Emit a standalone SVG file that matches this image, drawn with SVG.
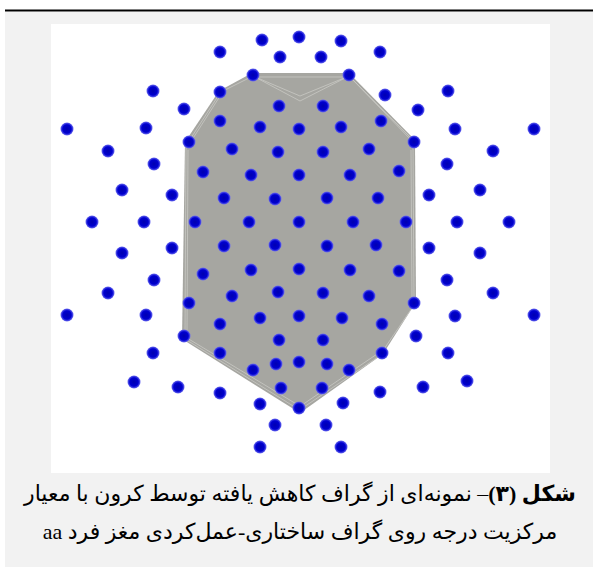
<svg xmlns="http://www.w3.org/2000/svg" width="593" height="567" viewBox="0 0 593 567">
<style>
.n{fill:url(#dot)}
.e{stroke:#c9c9c4;stroke-width:0.8;fill:none}
.cap{font-family:"Liberation Serif","DejaVu Sans",serif;font-size:22px;fill:#000}
</style>
<defs>
<radialGradient id="dot">
<stop offset="0" stop-color="#0000b0"/>
<stop offset="0.65" stop-color="#0000d0"/>
<stop offset="1" stop-color="#6a6af0"/>
</radialGradient>
</defs>
<rect x="0" y="0" width="593" height="567" fill="#ffffff"/>
<rect x="5" y="12" width="588" height="555" fill="#f2f2f2"/>
<line x1="5" y1="10.5" x2="593" y2="10.5" stroke="#000" stroke-width="2"/>
<rect x="51" y="24" width="499" height="449" fill="#ffffff"/>
<g id="connectors">
<polygon points="252,73 349,73 415,140 416,302 383,354 300,413 182,339 185,142 219,91" fill="#a6a6a1"/>
<path class="e" d="M253,76 L300,101 L349,76 M253,77 L349,77 M253,76 L300,96 L349,76 M220,93 L189,141 M222,93 L190,143 M253,76 L221,92 M349,76 L414,141 M351,78 L413,142 M186,145 L185,336 M188,150 L187,330 M413,146 L414,300 M411,150 L412,298 M185,339 L298,409 M187,338 L298,405 M414,305 L382,352 M381,355 L301,409 M380,352 L302,405"/>
</g>
<g id="nodes">
<g id="n1"><circle class="n" cx="262" cy="40" r="6.5"/></g>
<g id="n2"><circle class="n" cx="299" cy="37" r="6.5"/></g>
<g id="n3"><circle class="n" cx="341" cy="41" r="6.5"/></g>
<g id="n4"><circle class="n" cx="220" cy="52" r="6.5"/></g>
<g id="n5"><circle class="n" cx="380" cy="52" r="6.5"/></g>
<g id="n6"><circle class="n" cx="280" cy="57" r="6.5"/></g>
<g id="n7"><circle class="n" cx="321" cy="57" r="6.5"/></g>
<g id="n8"><circle class="n" cx="253" cy="75" r="6.5"/></g>
<g id="n9"><circle class="n" cx="349" cy="75" r="6.5"/></g>
<g id="n10"><circle class="n" cx="153" cy="91" r="6.5"/></g>
<g id="n11"><circle class="n" cx="220" cy="92" r="6.5"/></g>
<g id="n12"><circle class="n" cx="385" cy="95" r="6.5"/></g>
<g id="n13"><circle class="n" cx="448" cy="91" r="6.5"/></g>
<g id="n14"><circle class="n" cx="279" cy="106" r="6.5"/></g>
<g id="n15"><circle class="n" cx="323" cy="106" r="6.5"/></g>
<g id="n16"><circle class="n" cx="184" cy="109" r="6.5"/></g>
<g id="n17"><circle class="n" cx="418" cy="110" r="6.5"/></g>
<g id="n18"><circle class="n" cx="67" cy="129" r="6.5"/></g>
<g id="n19"><circle class="n" cx="146" cy="128" r="6.5"/></g>
<g id="n20"><circle class="n" cx="220" cy="121" r="6.5"/></g>
<g id="n21"><circle class="n" cx="260" cy="127" r="6.5"/></g>
<g id="n22"><circle class="n" cx="299" cy="129" r="6.5"/></g>
<g id="n23"><circle class="n" cx="341" cy="127" r="6.5"/></g>
<g id="n24"><circle class="n" cx="381" cy="121" r="6.5"/></g>
<g id="n25"><circle class="n" cx="455" cy="129" r="6.5"/></g>
<g id="n26"><circle class="n" cx="534" cy="129" r="6.5"/></g>
<g id="n27"><circle class="n" cx="108" cy="151" r="6.5"/></g>
<g id="n28"><circle class="n" cx="189" cy="142" r="6.5"/></g>
<g id="n29"><circle class="n" cx="232" cy="149" r="6.5"/></g>
<g id="n30"><circle class="n" cx="278" cy="152" r="6.5"/></g>
<g id="n31"><circle class="n" cx="323" cy="152" r="6.5"/></g>
<g id="n32"><circle class="n" cx="369" cy="149" r="6.5"/></g>
<g id="n33"><circle class="n" cx="414" cy="142" r="6.5"/></g>
<g id="n34"><circle class="n" cx="493" cy="151" r="6.5"/></g>
<g id="n35"><circle class="n" cx="154" cy="164" r="6.5"/></g>
<g id="n36"><circle class="n" cx="203" cy="172" r="6.5"/></g>
<g id="n37"><circle class="n" cx="251" cy="175" r="6.5"/></g>
<g id="n38"><circle class="n" cx="299" cy="175" r="6.5"/></g>
<g id="n39"><circle class="n" cx="350" cy="175" r="6.5"/></g>
<g id="n40"><circle class="n" cx="399" cy="171" r="6.5"/></g>
<g id="n41"><circle class="n" cx="447" cy="164" r="6.5"/></g>
<g id="n42"><circle class="n" cx="122" cy="190" r="6.5"/></g>
<g id="n43"><circle class="n" cx="172" cy="195" r="6.5"/></g>
<g id="n44"><circle class="n" cx="224" cy="198" r="6.5"/></g>
<g id="n45"><circle class="n" cx="275" cy="199" r="6.5"/></g>
<g id="n46"><circle class="n" cx="327" cy="198" r="6.5"/></g>
<g id="n47"><circle class="n" cx="378" cy="198" r="6.5"/></g>
<g id="n48"><circle class="n" cx="429" cy="195" r="6.5"/></g>
<g id="n49"><circle class="n" cx="480" cy="190" r="6.5"/></g>
<g id="n50"><circle class="n" cx="92" cy="222" r="6.5"/></g>
<g id="n51"><circle class="n" cx="144" cy="222" r="6.5"/></g>
<g id="n52"><circle class="n" cx="195" cy="222" r="6.5"/></g>
<g id="n53"><circle class="n" cx="249" cy="222" r="6.5"/></g>
<g id="n54"><circle class="n" cx="299" cy="222" r="6.5"/></g>
<g id="n55"><circle class="n" cx="353" cy="222" r="6.5"/></g>
<g id="n56"><circle class="n" cx="406" cy="222" r="6.5"/></g>
<g id="n57"><circle class="n" cx="457" cy="222" r="6.5"/></g>
<g id="n58"><circle class="n" cx="509" cy="222" r="6.5"/></g>
<g id="n59"><circle class="n" cx="122" cy="253" r="6.5"/></g>
<g id="n60"><circle class="n" cx="172" cy="248" r="6.5"/></g>
<g id="n61"><circle class="n" cx="224" cy="246" r="6.5"/></g>
<g id="n62"><circle class="n" cx="275" cy="245" r="6.5"/></g>
<g id="n63"><circle class="n" cx="327" cy="246" r="6.5"/></g>
<g id="n64"><circle class="n" cx="376" cy="245" r="6.5"/></g>
<g id="n65"><circle class="n" cx="429" cy="248" r="6.5"/></g>
<g id="n66"><circle class="n" cx="480" cy="253" r="6.5"/></g>
<g id="n67"><circle class="n" cx="154" cy="280" r="6.5"/></g>
<g id="n68"><circle class="n" cx="203" cy="274" r="6.5"/></g>
<g id="n69"><circle class="n" cx="251" cy="270" r="6.5"/></g>
<g id="n70"><circle class="n" cx="299" cy="269" r="6.5"/></g>
<g id="n71"><circle class="n" cx="350" cy="270" r="6.5"/></g>
<g id="n72"><circle class="n" cx="399" cy="271" r="6.5"/></g>
<g id="n73"><circle class="n" cx="447" cy="280" r="6.5"/></g>
<g id="n74"><circle class="n" cx="108" cy="293" r="6.5"/></g>
<g id="n75"><circle class="n" cx="189" cy="303" r="6.5"/></g>
<g id="n76"><circle class="n" cx="232" cy="296" r="6.5"/></g>
<g id="n77"><circle class="n" cx="278" cy="292" r="6.5"/></g>
<g id="n78"><circle class="n" cx="323" cy="293" r="6.5"/></g>
<g id="n79"><circle class="n" cx="369" cy="296" r="6.5"/></g>
<g id="n80"><circle class="n" cx="414" cy="303" r="6.5"/></g>
<g id="n81"><circle class="n" cx="493" cy="293" r="6.5"/></g>
<g id="n82"><circle class="n" cx="67" cy="315" r="6.5"/></g>
<g id="n83"><circle class="n" cx="146" cy="315" r="6.5"/></g>
<g id="n84"><circle class="n" cx="220" cy="324" r="6.5"/></g>
<g id="n85"><circle class="n" cx="260" cy="318" r="6.5"/></g>
<g id="n86"><circle class="n" cx="299" cy="316" r="6.5"/></g>
<g id="n87"><circle class="n" cx="342" cy="318" r="6.5"/></g>
<g id="n88"><circle class="n" cx="382" cy="324" r="6.5"/></g>
<g id="n89"><circle class="n" cx="455" cy="316" r="6.5"/></g>
<g id="n90"><circle class="n" cx="534" cy="315" r="6.5"/></g>
<g id="n91"><circle class="n" cx="184" cy="336" r="6.5"/></g>
<g id="n92"><circle class="n" cx="279" cy="340" r="6.5"/></g>
<g id="n93"><circle class="n" cx="323" cy="340" r="6.5"/></g>
<g id="n94"><circle class="n" cx="416" cy="336" r="6.5"/></g>
<g id="n95"><circle class="n" cx="153" cy="353" r="6.5"/></g>
<g id="n96"><circle class="n" cx="220" cy="353" r="6.5"/></g>
<g id="n97"><circle class="n" cx="382" cy="353" r="6.5"/></g>
<g id="n98"><circle class="n" cx="448" cy="353" r="6.5"/></g>
<g id="n99"><circle class="n" cx="276" cy="364" r="6.5"/></g>
<g id="n100"><circle class="n" cx="299" cy="362" r="6.5"/></g>
<g id="n101"><circle class="n" cx="327" cy="364" r="6.5"/></g>
<g id="n102"><circle class="n" cx="253" cy="370" r="6.5"/></g>
<g id="n103"><circle class="n" cx="349" cy="370" r="6.5"/></g>
<g id="n104"><circle class="n" cx="134" cy="382" r="6.5"/></g>
<g id="n105"><circle class="n" cx="178" cy="387" r="6.5"/></g>
<g id="n106"><circle class="n" cx="220" cy="393" r="6.5"/></g>
<g id="n107"><circle class="n" cx="281" cy="388" r="6.5"/></g>
<g id="n108"><circle class="n" cx="322" cy="388" r="6.5"/></g>
<g id="n109"><circle class="n" cx="380" cy="392" r="6.5"/></g>
<g id="n110"><circle class="n" cx="423" cy="387" r="6.5"/></g>
<g id="n111"><circle class="n" cx="467" cy="381" r="6.5"/></g>
<g id="n112"><circle class="n" cx="260" cy="404" r="6.5"/></g>
<g id="n113"><circle class="n" cx="299" cy="408" r="6.5"/></g>
<g id="n114"><circle class="n" cx="343" cy="403" r="6.5"/></g>
<g id="n115"><circle class="n" cx="275" cy="425" r="6.5"/></g>
<g id="n116"><circle class="n" cx="326" cy="425" r="6.5"/></g>
<g id="n117"><circle class="n" cx="260" cy="447" r="6.5"/></g>
<g id="n118"><circle class="n" cx="341" cy="447" r="6.5"/></g>
</g>
<g id="caption">
<text class="cap" x="300" y="501" text-anchor="middle" direction="rtl"><tspan font-weight="bold">شکل (۳)</tspan>– نمونه‌ای از گراف کاهش یافته توسط کرون با معیار</text>
<text class="cap" x="300" y="539" text-anchor="middle" direction="rtl">مرکزیت درجه روی گراف ساختاری-عمل‌کردی مغز فرد aa</text>
</g>
</svg>
